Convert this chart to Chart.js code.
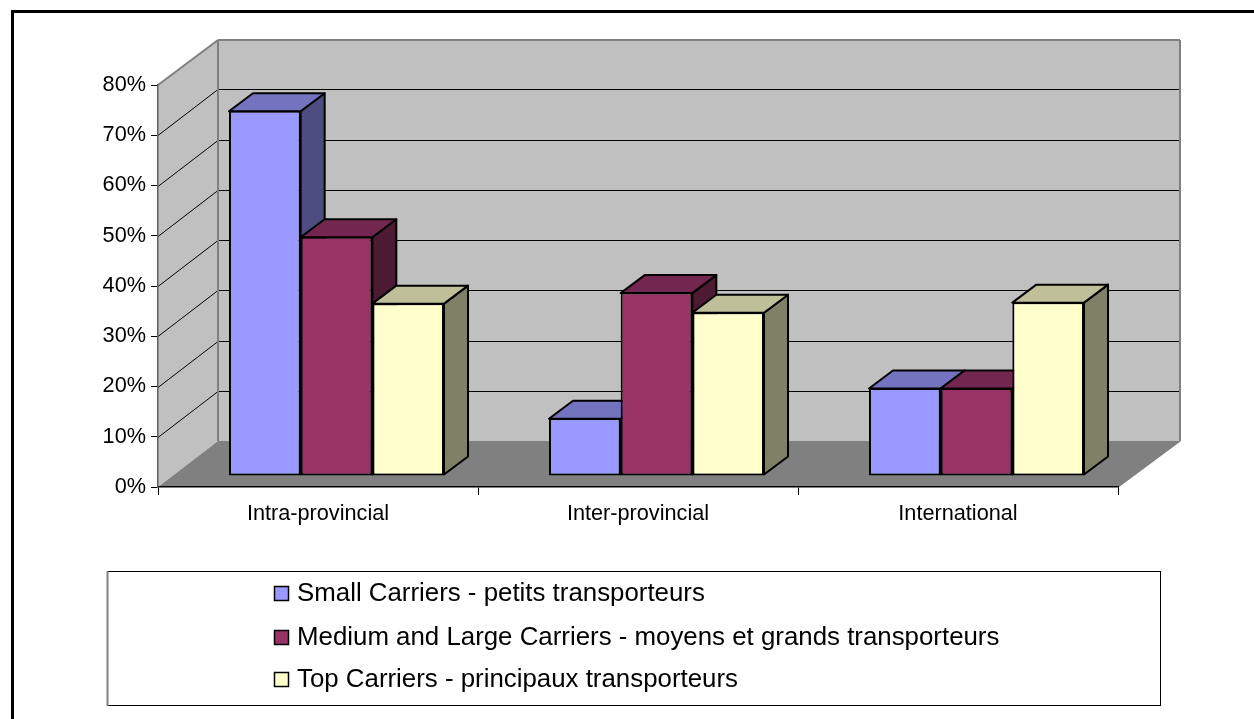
<!DOCTYPE html>
<html>
<head>
<meta charset="utf-8">
<title>Carriers</title>
<script src="https://cdn.jsdelivr.net/npm/chart.js@4"></script>
<style>
html, body { margin: 0; padding: 0; background: #fff; }
canvas { display: block; }
</style>
</head>
<body>
<canvas id="carriersChart" width="1254" height="719"></canvas>
<script>
const categories = ['Intra-provincial', 'Inter-provincial', 'International'];
const smallCarriers = [72.7, 11.5, 17.5];
const mediumLargeCarriers = [47.6, 36.5, 17.5];
const topCarriers = [34.4, 32.6, 34.6];
const seriesNames = [
    'Small Carriers - petits transporteurs',
    'Medium and Large Carriers - moyens et grands transporteurs',
    'Top Carriers - principaux transporteurs'
];
const yMax = 80;
const yStep = 10;

// colours: front, side (50%) and top (75%) of each column
const faces = [
    { front: '#9999FF', side: '#4D4D80', top: '#7373BF' },
    { front: '#993366', side: '#4D1A33', top: '#732650' },
    { front: '#FFFFCC', side: '#808066', top: '#BFBF99' }
];

const wallDepth = { x: 60, xRight: 62, y: -45, yFloor: -46 };
const barShift = { x: 18.5, y: -11 };
const barDepth = { x: 24, y: -18 };
const legendRows = [594, 638, 680];

function poly(ctx, pts, fill, stroke, width) {
    ctx.beginPath();
    pts.forEach((p, i) => i ? ctx.lineTo(p[0], p[1]) : ctx.moveTo(p[0], p[1]));
    ctx.closePath();
    if (fill) {
        ctx.fillStyle = fill;
        ctx.fill();
    }
    if (stroke) {
        ctx.strokeStyle = stroke;
        ctx.lineWidth = width;
        ctx.stroke();
    }
}

function line(ctx, x1, y1, x2, y2, color, width) {
    ctx.beginPath();
    ctx.moveTo(x1, y1);
    ctx.lineTo(x2, y2);
    ctx.strokeStyle = color;
    ctx.lineWidth = width;
    ctx.stroke();
}

// back wall, left wall and floor
const walls = {
    id: 'walls',
    beforeDraw(chart) {
        const ctx = chart.ctx;
        const a = chart.chartArea;
        const dx = wallDepth.x, dy = wallDepth.y, rx = a.right + wallDepth.xRight;
        const backBottom = a.bottom + wallDepth.yFloor;
        ctx.save();

        // page frame, only top and left sides are in the picture
        line(ctx, 12, 11.5, 1254, 11.5, '#000', 3);
        line(ctx, 12.5, 10, 12.5, 719, '#000', 3);

        poly(ctx, [[a.left, a.top], [a.left + dx, a.top + dy], [a.left + dx, backBottom], [a.left, a.bottom]], '#C0C0C0');
        poly(ctx, [[a.left + dx, a.top + dy], [rx, a.top + dy], [rx, backBottom], [a.left + dx, backBottom]], '#C0C0C0');
        poly(ctx, [[a.left, a.bottom], [a.left + dx, backBottom], [rx, backBottom], [a.right, a.bottom]], '#808080');

        const y = chart.scales.y;
        for (let v = yStep; v < yMax; v += yStep) {
            const py = Math.round(y.getPixelForValue(v)) - 0.5;
            line(ctx, a.left, py + 1, a.left + dx, py + dy, '#000', 1);
            line(ctx, a.left + dx, py + dy, rx, py + dy, '#000', 1);
        }

        // wall edges
        line(ctx, a.left, a.top, a.left + dx, a.top + dy, '#808080', 2);
        line(ctx, a.left + dx, a.top + dy, rx, a.top + dy, '#808080', 2);
        line(ctx, a.left + dx, a.top + dy, a.left + dx, backBottom, '#808080', 2);
        line(ctx, rx, a.top + dy, rx, backBottom, '#808080', 2);
        line(ctx, a.right, a.bottom, rx, backBottom, '#808080', 1.5);
        ctx.restore();
    }
};

// front faces come from the bar elements, this adds the side and top of each column.
// series have to go left to right so a column hides the side of the one before it
const columns3d = {
    id: 'columns3d',
    beforeDatasetsDraw(chart) {
        const ctx = chart.ctx;
        const dx = barDepth.x, dy = barDepth.y;
        ctx.save();
        ctx.translate(barShift.x, barShift.y);
        faces.forEach((f, i) => {
            const meta = chart.getDatasetMeta(i);
            meta.data.forEach(bar => {
                const p = bar.getProps(['x', 'y', 'base', 'width'], true);
                const l = p.x - p.width / 2, r = p.x + p.width / 2;
                const t = p.y + 0.5;
                const b = p.base - 1;
                ctx.lineJoin = 'round';
                poly(ctx, [[r, t], [r + dx, t + dy], [r + dx, b + dy], [r, b]], f.side, '#000', 2);
                poly(ctx, [[l, t], [l + dx, t + dy], [r + dx, t + dy], [r, t]], f.top, '#000', 2);
            });
            meta.controller.draw();
        });
        ctx.restore();
    },
    beforeDatasetDraw() {
        return false;
    }
};

const legendBox = {
    id: 'legendBox',
    afterDraw(chart) {
        const ctx = chart.ctx;
        ctx.save();
        ctx.fillStyle = '#fff';
        ctx.fillRect(107.5, 571.5, 1053, 134);
        ctx.strokeStyle = '#000';
        ctx.lineWidth = 1;
        ctx.strokeRect(107.5, 571.5, 1053, 134);
        line(ctx, 107.5, 571, 107.5, 706, '#808080', 2);
        ctx.font = '25.85px "Liberation Sans"';
        ctx.textBaseline = 'middle';
        chart.data.datasets.forEach((ds, i) => {
            const y = legendRows[i];
            ctx.fillStyle = ds.backgroundColor;
            ctx.fillRect(274.5, y - 7.5, 14, 14);
            ctx.strokeStyle = '#000';
            ctx.lineWidth = 1.5;
            ctx.strokeRect(274.5, y - 7.5, 14, 14);
            ctx.fillStyle = '#000';
            ctx.fillText(ds.label, 297, y);
        });
        ctx.restore();
    }
};

Chart.defaults.font.family = '"Liberation Sans"';
Chart.defaults.font.size = 21.7;
Chart.defaults.color = '#000';

new Chart(document.getElementById('carriersChart').getContext('2d'), {
    type: 'bar',
    data: {
        labels: categories,
        datasets: [smallCarriers, mediumLargeCarriers, topCarriers].map((values, i) => ({
            label: seriesNames[i],
            data: values,
            backgroundColor: faces[i].front,
            borderColor: '#000',
            borderWidth: 2,
            borderSkipped: false,
            clip: false
        }))
    },
    options: {
        responsive: false,
        animation: false,
        layout: { padding: { top: 85, right: 136 } },
        datasets: { bar: { categoryPercentage: 0.672, barPercentage: 1 } },
        plugins: { legend: { display: false }, tooltip: { enabled: false } },
        scales: {
            x: {
                afterFit: scale => { scale.height = 232; },
                border: { color: '#000', width: 1.5 },
                grid: { drawOnChartArea: false, tickLength: 8, tickColor: '#000' },
                ticks: { padding: 6, maxRotation: 0, autoSkip: false }
            },
            y: {
                min: 0,
                max: yMax,
                afterFit: scale => { scale.width = 158; },
                border: { color: '#606060', width: 1.5 },
                grid: { drawOnChartArea: false, tickLength: 7, tickColor: '#000' },
                ticks: { stepSize: yStep, padding: 5, callback: v => v + '%' }
            }
        }
    },
    plugins: [walls, columns3d, legendBox]
});
</script>
</body>
</html>
